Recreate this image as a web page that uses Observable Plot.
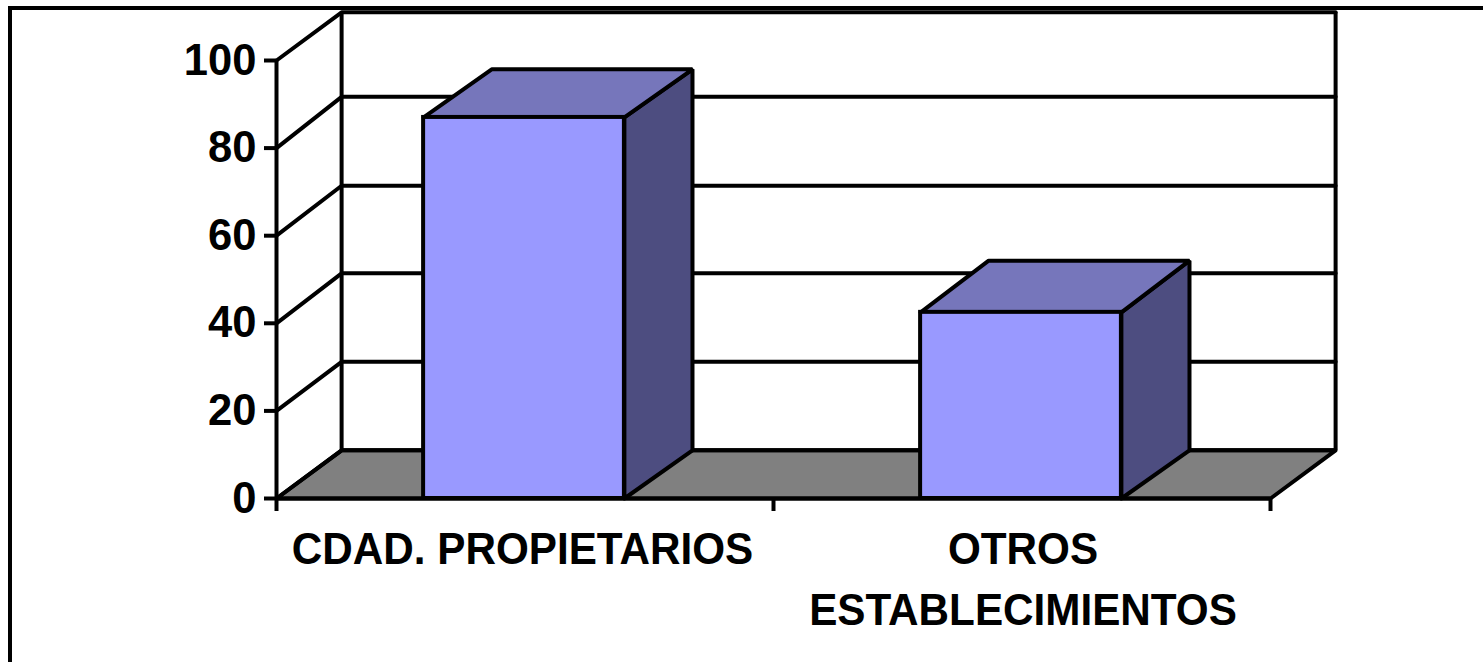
<!DOCTYPE html>
<html>
<head>
<meta charset="utf-8">
<script src="https://cdn.jsdelivr.net/npm/d3@7"></script>
<script src="https://cdn.jsdelivr.net/npm/@observablehq/plot@0.6"></script>
<style>
html, body { margin: 0; padding: 0; background: #fff; overflow: hidden; }
#frame { position: absolute; left: 8px; top: 6px; right: 0; bottom: 0; border-left: 4px solid #000; border-top: 4px solid #000; }
#chart { position: absolute; left: 0; top: 0; }
svg { background: transparent !important; display: block; }
</style>
</head>
<body>
<div id="frame"></div>
<div id="chart"></div>
<script>
const categories = ["CDAD. PROPIETARIOS", "OTROS\nESTABLECIMIENTOS"];
const values = [87, 42.5];
const backValues = [98, 54.3];
const yTicks = [0, 20, 40, 60, 80, 100];
const backLevels = [11, 31.2, 51.4, 71.4, 91.7, 111];
const xTicks = [0, 1, 2];
const barStart = [0.296, 1.296];
const barEnd = [0.70, 1.70];
const labelCenters = [0.495, 1.502];
const wallDepthX = 0.131;
const barDepthX = 0.137;
const depthY = 11;
const frontColor = "#9999ff";
const sideColor = "#4d4d80";
const topColor = "#7676bb";
const floorColor = "#808080";
const ink = "#000";
const lineW = 4;

const end = xTicks[xTicks.length - 1];
const top100 = yTicks[yTicks.length - 1];
const backTop = backLevels[backLevels.length - 1];

// oblique projection: the back wall is shifted along both scales
const gridLines = yTicks.flatMap((t, i) => [
  {id: t, x: 0, y: t},
  {id: t, x: wallDepthX, y: backLevels[i]},
  {id: t, x: end + wallDepthX, y: backLevels[i]}
]);
const floor = [
  {x: 0, y: 0},
  {x: wallDepthX, y: depthY},
  {x: end + wallDepthX, y: depthY},
  {x: end, y: 0},
  {x: 0, y: 0}
];
const walls = [
  {id: "back", x: wallDepthX, y1: depthY, y2: backTop},
  {id: "right", x: end + wallDepthX, y1: depthY, y2: backTop},
  {id: "front", x: 0, y1: 0, y2: top100}
];
const bars = categories.map((c, i) => ({c, v: values[i], back: backValues[i], a: barStart[i], b: barEnd[i], center: labelCenters[i]}));
const sides = bars.flatMap((d) => [
  {id: d.c, x: d.b, y: 0},
  {id: d.c, x: d.b + barDepthX, y: depthY},
  {id: d.c, x: d.b + barDepthX, y: d.back},
  {id: d.c, x: d.b, y: d.v},
  {id: d.c, x: d.b, y: 0}
]);
const tops = bars.flatMap((d) => [
  {id: d.c, x: d.a, y: d.v},
  {id: d.c, x: d.a + barDepthX, y: d.back},
  {id: d.c, x: d.b + barDepthX, y: d.back},
  {id: d.c, x: d.b, y: d.v},
  {id: d.c, x: d.a, y: d.v}
]);
const poly = {x: "x", y: "y", z: "id", stroke: ink, strokeWidth: lineW, strokeLinejoin: "miter", curve: "linear"};
const textFont = {fontFamily: "Liberation Sans", fontWeight: "bold", fontSize: 44, fill: ink};

const plot = Plot.plot({
  width: 1483,
  height: 662,
  marginLeft: 276,
  marginRight: 213,
  marginTop: 60,
  marginBottom: 164,
  style: {background: "transparent", color: ink, overflow: "visible"},
  x: {domain: [0, end], axis: null},
  y: {domain: [0, top100], axis: null},
  marks: [
    Plot.line(floor, {x: "x", y: "y", fill: floorColor, stroke: ink, strokeWidth: lineW, strokeLinejoin: "miter"}),
    Plot.line(gridLines, poly),
    Plot.ruleX(walls, {x: "x", y1: "y1", y2: "y2", stroke: ink, strokeWidth: lineW}),
    Plot.line(sides, {...poly, fill: sideColor}),
    Plot.line(tops, {...poly, fill: topColor}),
    Plot.rectY(bars, {x1: "a", x2: "b", y1: 0, y2: "v", fill: frontColor, stroke: ink, strokeWidth: lineW, inset: 0}),
    Plot.ruleY([0], {stroke: ink, strokeWidth: lineW}),
    Plot.axisY({ticks: yTicks, tickSize: 12, tickPadding: 8, strokeWidth: lineW, label: null, className: "num", ...textFont}),
    Plot.axisX({ticks: xTicks, tickSize: 13, strokeWidth: lineW, tickFormat: () => "", label: null}),
    Plot.text(bars, {
      x: "center",
      y: () => 0,
      text: "c",
      dy: 22,
      lineAnchor: "top",
      lineHeight: 1.39,
      textAnchor: "middle",
      className: "cat",
      ...textFont
    })
  ]
});
document.getElementById("chart").append(plot);
d3.select(plot).selectAll("text").each(function () {
  const isCat = this.closest(".cat") !== null;
  const t = this.getAttribute("transform") || "";
  this.setAttribute("transform", t + (isCat ? " scale(0.96,1)" : " scale(0.99,1)"));
});
</script>
</body>
</html>
